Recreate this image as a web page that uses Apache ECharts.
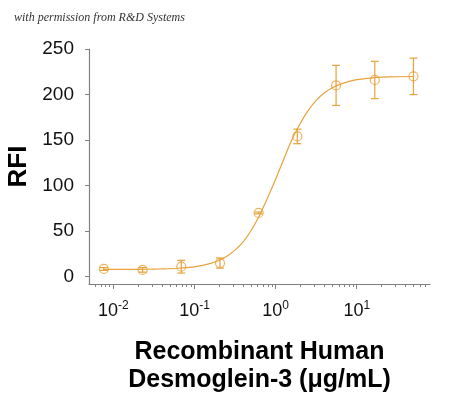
<!DOCTYPE html>
<html>
<head>
<meta charset="utf-8">
<script src="https://cdn.jsdelivr.net/npm/echarts@6/dist/echarts.min.js"></script>
<style>html,body{margin:0;padding:0;background:#fff;}#c{width:450px;height:394px;}</style>
</head>
<body>
<div id="c"></div>
<script>
// ---- data ----
const concentrations = [0.00762, 0.0229, 0.0686, 0.206, 0.617, 1.85, 5.56, 16.7, 50]; // µg/mL
const rfiMeans  = [8.5, 7.5, 11, 15, 70, 154, 210, 216, 220];
const rfiErrors = [1.5, 2.5, 7, 5.5, 1, 8, 22, 20.5, 20];
const curveConc = [0.0076, 0.01, 0.016, 0.025, 0.04, 0.063, 0.1, 0.126, 0.158, 0.2, 0.25, 0.316, 0.4, 0.5, 0.63, 0.79, 1, 1.26, 1.58, 2, 2.5, 3.16, 4, 5, 6.3, 10, 15.8, 25, 50];
const curveRfi  = [8.0, 8.0, 8.1, 8.2, 8.6, 9.3, 10.9, 12.4, 14.6, 17.8, 22.5, 29.2, 38.5, 51, 67, 86, 107, 129, 150, 168, 182, 193.5, 202, 207.5, 211.5, 216.3, 218.4, 219.3, 219.8];
const xTickDecades = [0.01, 0.1, 1, 10];
const yTickValues = [0, 50, 100, 150, 200, 250];
const xMin = 0.005, xMax = 80, yMin = -8, yMax = 250;

const ORANGE = '#E8A23A';
const lg = v => Math.log10(v);
const minorTicks = [];
[0.001, 0.01, 0.1, 1, 10].forEach(d => { for (let k = 2; k <= 9; k++) { const v = k * d; if (v > xMin && v < xMax) minorTicks.push(lg(v)); } });

const chart = echarts.init(document.getElementById('c'), null, {renderer: 'canvas'});
chart.setOption({
  animation: false,
  backgroundColor: '#fff',
  title: {
    text: 'with permission from R&D Systems',
    left: 9, top: 7,
    textStyle: {fontFamily: 'Liberation Serif', fontStyle: 'italic', fontWeight: 'normal', fontSize: 12, color: '#333'}
  },
  grid: {left: 89, right: 20, top: 49, bottom: 110, containLabel: false, outerBoundsMode: 'none'},
  xAxis: [{
    type: 'value', min: lg(xMin), max: lg(xMax),
    position: 'bottom',
    axisLine: {show: true, onZero: false, lineStyle: {color: '#808080', width: 1.2}},
    axisTick: {show: true, length: 5, inside: false, customValues: xTickDecades.map(lg), lineStyle: {color: '#808080'}},
    axisLabel: {
      customValues: xTickDecades.map(lg), margin: 16,
      formatter: v => '{b|10}{s|' + Math.round(v) + '}',
      rich: {
        b: {fontFamily: 'Liberation Sans', fontSize: 18, color: '#111', verticalAlign: 'bottom'},
        s: {fontFamily: 'Liberation Sans', fontSize: 12, color: '#111', verticalAlign: 'top', padding: [0, 0, 8, 0]}
      }
    },
    splitLine: {show: false},
    name: 'Recombinant Human\nDesmoglein-3 (μg/mL)',
    nameLocation: 'middle', nameGap: 54,
    nameTextStyle: {fontFamily: 'Liberation Sans', fontWeight: 'bold', fontSize: 25, color: '#000', lineHeight: 28}
  }, {
    type: 'value', min: lg(xMin), max: lg(xMax),
    position: 'bottom',
    axisLine: {show: false, onZero: false},
    axisTick: {show: true, length: 3, inside: false, customValues: minorTicks, lineStyle: {color: '#808080'}},
    axisLabel: {show: false},
    splitLine: {show: false}
  }],
  yAxis: {
    type: 'value', min: yMin, max: yMax,
    axisLine: {show: true, onZero: false, lineStyle: {color: '#808080', width: 1.2}},
    axisTick: {show: true, length: 4, customValues: yTickValues, lineStyle: {color: '#808080'}},
    axisLabel: {customValues: yTickValues, margin: 15, fontFamily: 'Liberation Sans', fontSize: 19, color: '#111'},
    splitLine: {show: false},
    name: 'RFI', nameLocation: 'middle', nameGap: 56, nameRotate: 90,
    nameTextStyle: {fontFamily: 'Liberation Sans', fontWeight: 'bold', fontSize: 26, color: '#000'}
  },
  series: [{
    type: 'line', xAxisIndex: 0,
    data: curveConc.map((c, i) => [lg(c), curveRfi[i]]),
    smooth: 0.3, showSymbol: false,
    lineStyle: {color: ORANGE, width: 1.2}, z: 2
  }, {
    type: 'custom', xAxisIndex: 0,
    data: concentrations.map((c, i) => [lg(c), rfiMeans[i] - rfiErrors[i], rfiMeans[i] + rfiErrors[i]]),
    renderItem: (params, api) => {
      const lo = api.coord([api.value(0), api.value(1)]);
      const hi = api.coord([api.value(0), api.value(2)]);
      const w = 4;
      const st = {stroke: ORANGE, lineWidth: 1.2, fill: null};
      return {type: 'group', children: [
        {type: 'line', shape: {x1: lo[0], y1: lo[1], x2: hi[0], y2: hi[1]}, style: st},
        {type: 'line', shape: {x1: lo[0] - w, y1: lo[1], x2: lo[0] + w, y2: lo[1]}, style: st},
        {type: 'line', shape: {x1: hi[0] - w, y1: hi[1], x2: hi[0] + w, y2: hi[1]}, style: st}
      ]};
    },
    z: 3
  }, {
    type: 'scatter', xAxisIndex: 0,
    data: concentrations.map((c, i) => [lg(c), rfiMeans[i]]),
    symbol: 'circle', symbolSize: 9,
    itemStyle: {color: 'rgba(255,255,255,0)', borderColor: ORANGE, borderWidth: 1.2},
    z: 4
  }]
});
</script>
</body>
</html>
